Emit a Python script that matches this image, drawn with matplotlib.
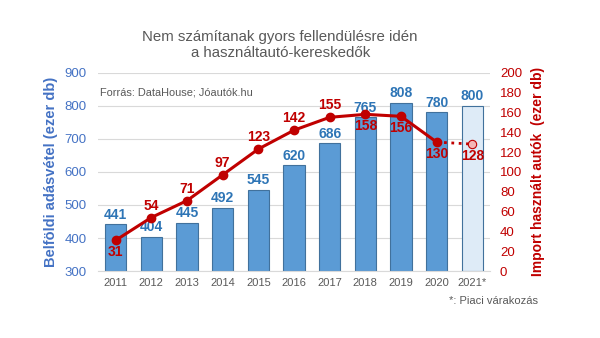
import numpy as np
import matplotlib.pyplot as plt

years = ['2011', '2012', '2013', '2014', '2015', '2016', '2017', '2018', '2019', '2020', '2021*']
domestic = [441, 404, 445, 492, 545, 620, 686, 765, 808, 780, 800]
imports = [31, 54, 71, 97, 123, 142, 155, 158, 156, 130, 128]
imp_below = [True, False, False, False, False, False, False, True, True, True, True]

blue = '#5B9BD5'
dblue = '#4472C4'
red = '#C00000'
gray = '#595959'

plt.rcParams['font.family'] = ['Liberation Sans', 'DejaVu Sans']

fig = plt.figure(figsize=(6, 3.38), dpi=100)
ax = fig.add_axes([0.163, 0.198, 0.654, 0.587])
x = np.arange(len(years))

colors = [blue] * 10 + ['#DEEBF7']
ax.bar(x, [d - 300 for d in domestic], bottom=300, width=0.6, color=colors,
       edgecolor='#41719C', linewidth=0.8, zorder=2)
for xi, d in zip(x, domestic):
    ax.text(xi, d + 8, str(d), ha='center', va='bottom', color='#2E75B6',
            fontsize=10, fontweight='bold', zorder=5)

ax.set_ylim(300, 900)
ax.set_xlim(-0.5, len(years) - 0.5)
ax.set_yticks(range(300, 901, 100))
ax.grid(axis='y', color='#D9D9D9', linewidth=0.8, zorder=0)
ax.set_xticks(x)
ax.set_xticklabels(years, fontsize=8, color=gray)
ax.tick_params(axis='y', colors=dblue, labelsize=9.5, length=0, pad=8)
ax.tick_params(axis='x', length=0, pad=5)
for s in ['top', 'right', 'left']:
    ax.spines[s].set_visible(False)
ax.spines['bottom'].set_color('#D9D9D9')
ax.set_ylabel('Belföldi adásvétel (ezer db)', color=dblue, fontsize=10.5,
              fontweight='bold', labelpad=5)

ax2 = ax.twinx()
ax2.set_ylim(0, 200)
ax2.set_yticks(range(0, 201, 20))
ax2.tick_params(axis='y', colors=red, labelsize=9.5, length=0, pad=7)
for s in ax2.spines.values():
    s.set_visible(False)
ax2.set_ylabel('Import használt autók  (ezer db)', color=red, fontsize=10,
               fontweight='bold', labelpad=6)

ax2.plot(x[:10], imports[:10], color=red, linewidth=2.2, marker='o',
         markersize=6, zorder=4)
ax2.plot(x[9:], imports[9:], color=red, linewidth=2, linestyle=':', zorder=4)
ax2.plot(x[10], imports[10], marker='o', markersize=6, color='#F4B6B6',
         markeredgecolor=red, markeredgewidth=0.8, zorder=5)
for xi, v, below in zip(x, imports, imp_below):
    if below:
        ax2.text(xi, v - 5, str(v), ha='center', va='top', color=red,
                 fontsize=10, fontweight='bold', zorder=5)
    else:
        ax2.text(xi, v + 5, str(v), ha='center', va='bottom', color=red,
                 fontsize=10, fontweight='bold', zorder=5)

fig.text(0.467, 0.866, 'Nem számítanak gyors fellendülésre idén\na használtautó-kereskedők',
         ha='center', va='center', fontsize=10.8, color=gray, linespacing=1.2)
fig.text(0.167, 0.725, 'Forrás: DataHouse; Jóautók.hu', fontsize=7.9, color=gray,
         va='center')
fig.text(0.897, 0.11, '*: Piaci várakozás', fontsize=8, color=gray,
         ha='right', va='center')

fig.savefig('out.png', dpi=100)
